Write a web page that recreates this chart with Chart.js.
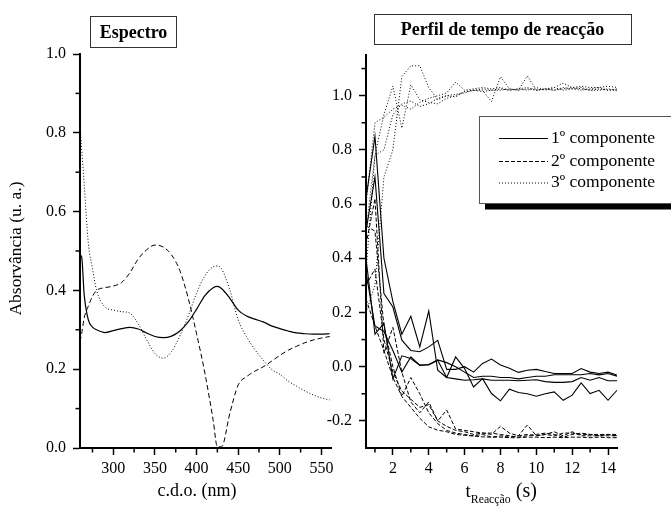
<!DOCTYPE html>
<html><head><meta charset="utf-8">
<script src="https://cdn.jsdelivr.net/npm/chart.js@4.4.1/dist/chart.umd.min.js"></script>
<style>
html,body{margin:0;padding:0;background:#fff;}
#wrap{position:relative;width:671px;height:507px;overflow:hidden;background:#fff;}
canvas{position:absolute;left:0;top:0;}
</style></head><body>
<div id="wrap"><canvas id="c1" width="671" height="507"></canvas><canvas id="c2" width="671" height="507"></canvas></div>
<script>
// ---------- data: spectra (left panel) ----------
const wavelengths = [260, 262, 265, 270, 275, 280, 290, 300, 310, 320, 330, 340, 350, 360, 370, 380, 390, 400, 410, 420, 425, 430, 440, 450, 460, 470, 480, 490, 500, 510, 520, 530, 540, 550, 560];
const spectrum1 = [0.49, 0.485, 0.39, 0.325, 0.307, 0.30, 0.293, 0.298, 0.303, 0.306, 0.302, 0.292, 0.283, 0.28, 0.284, 0.297, 0.32, 0.352, 0.387, 0.407, 0.41, 0.405, 0.38, 0.35, 0.335, 0.327, 0.32, 0.31, 0.303, 0.297, 0.292, 0.29, 0.289, 0.289, 0.29];
const spectrum2 = [0.27, 0.29, 0.33, 0.36, 0.385, 0.40, 0.407, 0.411, 0.42, 0.445, 0.48, 0.503, 0.515, 0.51, 0.49, 0.45, 0.38, 0.29, 0.19, 0.07, 0.003, 0.003, 0.088, 0.16, 0.181, 0.195, 0.206, 0.22, 0.235, 0.248, 0.258, 0.267, 0.274, 0.279, 0.283];
const spectrum3 = [0.82, 0.76, 0.67, 0.52, 0.455, 0.40, 0.358, 0.35, 0.346, 0.342, 0.315, 0.275, 0.24, 0.228, 0.245, 0.285, 0.335, 0.393, 0.437, 0.46, 0.462, 0.455, 0.401, 0.325, 0.283, 0.25, 0.223, 0.2, 0.187, 0.17, 0.157, 0.145, 0.135, 0.127, 0.122];

// ---------- data: reaction time profiles (right panel) ----------
const times = [0.5, 1, 1.5, 2, 2.5, 3, 3.5, 4, 4.5, 5, 5.5, 6, 6.5, 7, 7.5, 8, 8.5, 9, 9.5, 10, 10.5, 11, 11.5, 12, 12.5, 13, 13.5, 14, 14.5];
const comp1RunA = [0.62, 0.85, 0.40, 0.24, 0.12, 0.186, 0.073, 0.205, -0.013, -0.04, 0.036, -0.007, -0.075, -0.044, -0.099, -0.126, -0.083, -0.095, -0.10, -0.109, -0.10, -0.093, -0.124, -0.105, -0.06, -0.099, -0.087, -0.124, -0.087];
const comp1RunB = [0.50, 0.70, 0.27, 0.22, 0.098, 0.06, 0.055, 0.073, 0.097, -0.01, -0.01, 0.0, -0.02, 0.012, 0.028, 0.006, -0.006, -0.021, -0.013, -0.01, -0.018, -0.025, -0.025, -0.025, -0.007, -0.02, -0.025, -0.02, -0.031];
const comp1RunC = [0.40, 0.12, 0.16, -0.045, 0.04, 0.03, 0.005, 0.008, 0.025, 0.015, 0.0, -0.02, -0.04, -0.035, -0.035, -0.04, -0.04, -0.045, -0.04, -0.035, -0.035, -0.03, -0.03, -0.03, -0.03, -0.025, -0.03, -0.025, -0.035];
const comp1RunD = [0.35, 0.15, 0.13, 0.06, -0.02, 0.036, 0.006, 0.006, 0.024, -0.04, -0.045, -0.05, -0.048, -0.045, -0.05, -0.05, -0.05, -0.052, -0.05, -0.048, -0.055, -0.058, -0.058, -0.055, -0.04, -0.05, -0.04, -0.052, -0.052];
const comp2RunA = [0.45, 0.62, 0.05, 0.145, -0.02, -0.13, -0.17, -0.13, -0.20, -0.22, -0.235, -0.24, -0.25, -0.245, -0.25, -0.22, -0.245, -0.255, -0.25, -0.255, -0.25, -0.255, -0.245, -0.245, -0.25, -0.25, -0.255, -0.25, -0.255];
const comp2RunB = [0.52, 0.50, 0.15, 0.0, -0.11, -0.04, -0.10, -0.17, -0.21, -0.235, -0.245, -0.25, -0.255, -0.25, -0.26, -0.255, -0.26, -0.255, -0.215, -0.255, -0.25, -0.24, -0.255, -0.24, -0.255, -0.255, -0.255, -0.255, -0.255];
const comp2RunC = [0.30, 0.36, 0.10, -0.02, -0.09, -0.12, -0.15, -0.14, -0.20, -0.16, -0.23, -0.235, -0.24, -0.245, -0.245, -0.25, -0.255, -0.26, -0.255, -0.25, -0.245, -0.25, -0.26, -0.25, -0.245, -0.25, -0.25, -0.25, -0.25];
const comp2RunD = [0.25, 0.15, 0.06, -0.04, -0.11, -0.15, -0.19, -0.222, -0.234, -0.24, -0.25, -0.253, -0.256, -0.259, -0.26, -0.26, -0.262, -0.262, -0.26, -0.26, -0.262, -0.26, -0.262, -0.26, -0.26, -0.262, -0.26, -0.262, -0.262];
const comp3RunA = [0.20, 0.30, 0.70, 0.80, 1.07, 1.11, 1.11, 1.03, 0.985, 1.0, 0.995, 1.015, 1.02, 1.02, 0.978, 1.07, 1.025, 1.02, 1.025, 1.02, 1.025, 1.02, 1.03, 1.025, 1.02, 1.025, 1.03, 1.02, 1.02];
const comp3RunB = [0.50, 0.78, 0.93, 1.035, 0.88, 1.04, 0.985, 0.975, 0.97, 0.99, 1.0, 1.015, 1.02, 1.025, 1.02, 1.02, 1.025, 1.02, 1.073, 1.02, 1.025, 1.02, 1.025, 1.03, 1.025, 1.02, 1.02, 1.025, 1.02];
const comp3RunC = [0.60, 0.90, 0.92, 0.95, 0.965, 0.95, 0.975, 0.99, 1.0, 1.01, 1.05, 1.02, 1.025, 1.03, 1.025, 1.03, 1.02, 1.025, 1.02, 1.03, 1.02, 1.03, 1.046, 1.03, 1.035, 1.03, 1.03, 1.035, 1.03];
const comp3RunD = [0.35, 0.78, 0.80, 0.93, 0.97, 0.98, 0.96, 0.97, 0.99, 1.0, 1.005, 1.01, 1.02, 1.015, 1.02, 1.025, 1.02, 1.025, 1.03, 1.02, 1.025, 1.03, 1.02, 1.025, 1.03, 1.02, 1.025, 1.02, 1.025];

// ---------- tick labels ----------
const leftXTicks = [300, 350, 400, 450, 500, 550];
const leftXMinor = [275, 325, 375, 425, 475, 525];
const leftYTicks = [0.0, 0.2, 0.4, 0.6, 0.8, 1.0];
const leftYMinor = [0.1, 0.3, 0.5, 0.7, 0.9];
const rightXTicks = [2, 4, 6, 8, 10, 12, 14];
const rightXMinor = [1, 3, 5, 7, 9, 11, 13];
const rightYTicks = [-0.2, 0.0, 0.2, 0.4, 0.6, 0.8, 1.0];
const rightYMinor = [-0.1, 0.1, 0.3, 0.5, 0.7, 0.9, 1.1];

// ---------- texts ----------
const leftTitle = 'Espectro';
const rightTitle = 'Perfil de tempo de reacção';
const leftXLabel = 'c.d.o. (nm)';
const leftYLabel = 'Absorvância (u. a.)';
const rightXLabelMain = 't';
const rightXLabelSub = 'Reacção';
const rightXLabelUnit = ' (s)';
const legendLabels = ['1º componente', '2º componente', '3º componente'];

// ---------- styles ----------
const SERIF = '"Liberation Serif", "Times New Roman", serif';
const DASHES = [[], [4, 2], [1, 2]];

const decor = {
  id: 'decor',
  afterDraw(chart, args, o) {
    const ctx = chart.ctx, a = chart.chartArea, sx = chart.scales.x, sy = chart.scales.y;
    ctx.save();
    // minor ticks
    ctx.strokeStyle = '#000'; ctx.lineWidth = 1.5; ctx.setLineDash([]);
    (o.minorX || []).forEach(v => {
      const p = sx.getPixelForValue(v);
      ctx.beginPath(); ctx.moveTo(p, a.bottom); ctx.lineTo(p, a.bottom + 4.5); ctx.stroke();
    });
    (o.minorY || []).forEach(v => {
      const p = sy.getPixelForValue(v);
      ctx.beginPath(); ctx.moveTo(a.left, p); ctx.lineTo(a.left - 4.5, p); ctx.stroke();
    });
    // title box
    if (o.box) {
      const b = o.box;
      ctx.fillStyle = '#fff'; ctx.fillRect(b.x, b.y, b.w, b.h);
      ctx.strokeStyle = '#333'; ctx.lineWidth = 1; ctx.strokeRect(b.x + 0.5, b.y + 0.5, b.w, b.h);
      ctx.fillStyle = '#000'; ctx.font = 'bold 18px ' + SERIF;
      ctx.textAlign = 'center'; ctx.textBaseline = 'alphabetic';
      ctx.fillText(b.text, b.tx, b.ty);
    }
    // axis titles
    ctx.fillStyle = '#000'; ctx.textBaseline = 'alphabetic';
    if (o.xTitle) {
      ctx.font = '18px ' + SERIF; ctx.textAlign = 'center';
      ctx.fillText(o.xTitle.text, o.xTitle.x, o.xTitle.y);
    }
    if (o.xTitleSub) {
      const t = o.xTitleSub; let x = t.x;
      ctx.textAlign = 'left';
      ctx.font = '19px ' + SERIF; ctx.fillText(t.main, x, t.y); x += ctx.measureText(t.main).width;
      ctx.font = '11.8px ' + SERIF; ctx.fillText(t.sub, x, t.y + 6.5); x += ctx.measureText(t.sub).width;
      ctx.font = '20px ' + SERIF; ctx.fillText(t.unit, x, t.y);
    }
    if (o.yTitle) {
      ctx.save(); ctx.translate(o.yTitle.x, o.yTitle.y); ctx.rotate(-Math.PI / 2);
      ctx.font = '17.5px ' + SERIF; ctx.textAlign = 'center';
      ctx.fillText(o.yTitle.text, 0, 0); ctx.restore();
    }
    // legend
    if (o.legend) {
      const L = o.legend;
      ctx.fillStyle = '#000';
      ctx.fillRect(L.x + 6, L.y + L.h, L.w, 6.5);
      ctx.fillRect(L.x + L.w, L.y + 6, 6.5, L.h);
      ctx.fillStyle = '#fff'; ctx.fillRect(L.x, L.y, L.w, L.h);
      ctx.strokeStyle = '#555'; ctx.lineWidth = 1; ctx.strokeRect(L.x + 0.5, L.y + 0.5, L.w, L.h);
      ctx.font = '17.5px ' + SERIF; ctx.textAlign = 'left';
      L.labels.forEach((lab, i) => {
        const y = L.rows[i];
        ctx.strokeStyle = '#000'; ctx.lineWidth = 1; ctx.setLineDash(DASHES[i]);
        ctx.beginPath(); ctx.moveTo(L.lx0, y); ctx.lineTo(L.lx1, y); ctx.stroke();
        ctx.setLineDash([]); ctx.fillStyle = '#000';
        ctx.fillText(lab, L.tx, y + 4);
      });
    }
    ctx.restore();
  }
};

function fixTicks(list) { return s => { s.ticks = list.map(v => ({ value: v })); }; }
function axisCommon(ticksList, fmt) {
  return {
    type: 'linear',
    afterBuildTicks: fixTicks(ticksList),
    border: { display: true, color: '#000', width: 2 },
    grid: { display: true, drawOnChartArea: false, drawTicks: true, tickLength: 7, tickWidth: 1.5, tickColor: '#000' },
    ticks: { color: '#000', font: { family: SERIF, size: 16 }, padding: 4, autoSkip: false, maxRotation: 0, minRotation: 0, callback: fmt }
  };
}

function mk(xs, ys) { return xs.map((x, i) => ({ x: x, y: ys[i] })); }
function ds(label, xs, ys, dashIdx, width) {
  return { label: label, data: mk(xs, ys), borderColor: '#000', borderWidth: width, borderDash: DASHES[dashIdx], pointRadius: 0, fill: false };
}

// ---------- left chart ----------
const lx = axisCommon(leftXTicks, v => String(v));
lx.min = 260; lx.max = 561.5; lx.afterFit = s => { s.height = 59; };
const ly = axisCommon(leftYTicks, v => Number(v).toFixed(1));
ly.min = 0; ly.max = 1.0; ly.afterFit = s => { s.width = 80; };
ly.ticks.padding = 7;

new Chart(document.getElementById('c1'), {
  type: 'line',
  data: { datasets: [
    Object.assign(ds('1º componente', wavelengths, spectrum1, 0, 1.2), { cubicInterpolationMode: 'monotone' }),
    Object.assign(ds('2º componente', wavelengths, spectrum2, 1, 1), { cubicInterpolationMode: 'monotone', borderDash: [5, 3] }),
    Object.assign(ds('3º componente', wavelengths, spectrum3, 2, 1), { cubicInterpolationMode: 'monotone' })
  ] },
  options: {
    responsive: false, animation: false, devicePixelRatio: 1,
    layout: { padding: { left: 0, right: 340, top: 54, bottom: 0 } },
    scales: { x: lx, y: ly },
    plugins: {
      legend: { display: false }, tooltip: { enabled: false }, title: { display: false },
      decor: {
        minorX: leftXMinor, minorY: leftYMinor,
        box: { x: 90, y: 16, w: 86, h: 31, text: leftTitle, tx: 133.5, ty: 38 },
        xTitle: { text: leftXLabel, x: 197, y: 496 },
        yTitle: { text: leftYLabel, x: 20.5, y: 248.5 }
      }
    }
  },
  plugins: [decor]
});

// ---------- right chart ----------
const rx = axisCommon(rightXTicks, v => String(v));
rx.min = 0.5; rx.max = 14.5; rx.afterFit = s => { s.height = 59; };
const ry = axisCommon(rightYTicks, v => Number(v).toFixed(1));
ry.min = -0.3; ry.max = 1.15; ry.afterFit = s => { s.width = 40; };
ry.ticks.padding = 7;

const rightSeries = [
  [comp1RunA, 0, 1.1], [comp1RunB, 0, 1.1], [comp1RunC, 0, 1.1], [comp1RunD, 0, 1.1],
  [comp2RunA, 1, 1], [comp2RunB, 1, 1], [comp2RunC, 1, 1], [comp2RunD, 1, 1],
  [comp3RunA, 2, 1], [comp3RunB, 2, 1], [comp3RunC, 2, 1], [comp3RunD, 2, 1]
];

new Chart(document.getElementById('c2'), {
  type: 'line',
  data: { datasets: rightSeries.map(r => Object.assign(ds(legendLabels[r[1]], times, r[0], r[1], r[2]), { tension: 0 })) },
  options: {
    responsive: false, animation: false, devicePixelRatio: 1,
    layout: { padding: { left: 326, right: 54, top: 55, bottom: 0 } },
    scales: { x: rx, y: ry },
    plugins: {
      legend: { display: false }, tooltip: { enabled: false }, title: { display: false },
      decor: {
        minorX: rightXMinor, minorY: rightYMinor,
        box: { x: 374, y: 14, w: 257, h: 30, text: rightTitle, tx: 502.5, ty: 34.5 },
        xTitleSub: { main: rightXLabelMain, sub: rightXLabelSub, unit: rightXLabelUnit, x: 465.5, y: 496.5 },
        legend: { x: 479, y: 116, w: 200, h: 87, labels: legendLabels, rows: [138.5, 161.5, 183], lx0: 499, lx1: 548, tx: 551 }
      }
    }
  },
  plugins: [decor]
});
</script>
</body></html>
